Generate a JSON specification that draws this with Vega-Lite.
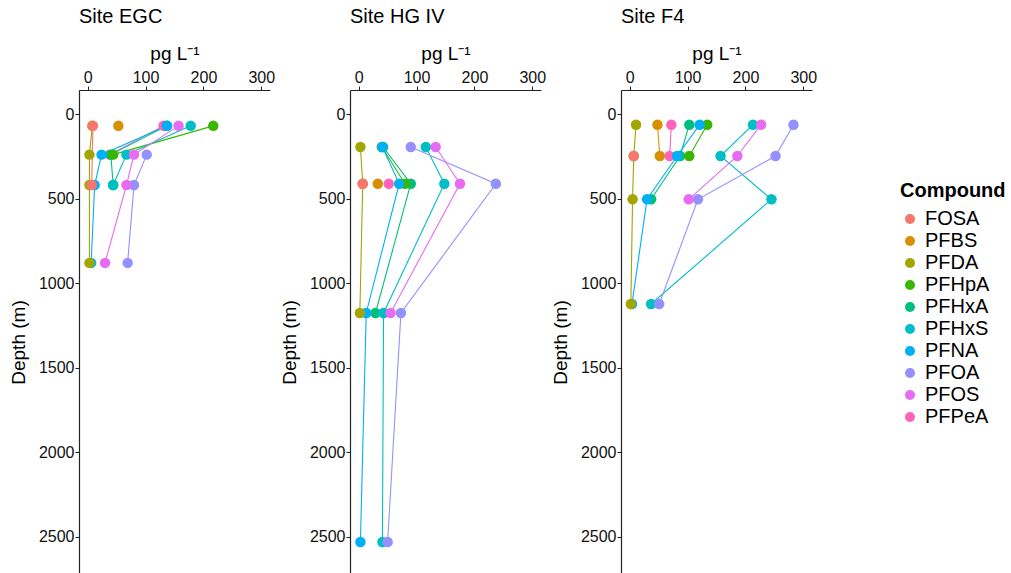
{
  "$schema": "https://vega.github.io/schema/vega-lite/v6.json",
  "background": "white",
  "padding": {"left": 9, "top": 7, "right": 5, "bottom": 0},
  "config": {
    "font": "Liberation Sans",
    "view": {"stroke": null},
    "axis": {
      "grid": false,
      "domainColor": "#222222",
      "domainWidth": 1.2,
      "tickColor": "#222222",
      "tickSize": 4,
      "labelColor": "#111111",
      "labelFontSize": 16,
      "labelFont": "Liberation Sans",
      "titleFont": "Liberation Sans",
      "titleFontSize": 19,
      "titleFontWeight": "normal",
      "titleColor": "#000000",
      "labelPadding": 1,
      "format": "d"
    },
    "title": {"font": "Liberation Sans", "fontSize": 20, "fontWeight": "normal", "anchor": "start", "frame": "group", "color": "#000000", "offset": 17},
    "concat": {"spacing": 80}
  },
  "data": {
    "values": [
      {"site": "EGC", "compound": "PFPeA", "depth": 70, "conc": 131},
      {"site": "EGC", "compound": "PFPeA", "depth": 240, "conc": 38},
      {"site": "HG IV", "compound": "PFPeA", "depth": 412, "conc": 52},
      {"site": "F4", "compound": "PFPeA", "depth": 63, "conc": 72},
      {"site": "F4", "compound": "PFPeA", "depth": 248, "conc": 69},

      {"site": "EGC", "compound": "PFBS", "depth": 70, "conc": 53},
      {"site": "HG IV", "compound": "PFBS", "depth": 412, "conc": 33},
      {"site": "F4", "compound": "PFBS", "depth": 63, "conc": 48},
      {"site": "F4", "compound": "PFBS", "depth": 248, "conc": 52},

      {"site": "EGC", "compound": "PFHxA", "depth": 70, "conc": 137},
      {"site": "EGC", "compound": "PFHxA", "depth": 240, "conc": 40},
      {"site": "EGC", "compound": "PFHxA", "depth": 420, "conc": 44},
      {"site": "HG IV", "compound": "PFHxA", "depth": 195, "conc": 42},
      {"site": "HG IV", "compound": "PFHxA", "depth": 412, "conc": 90},
      {"site": "HG IV", "compound": "PFHxA", "depth": 1176, "conc": 29},
      {"site": "F4", "compound": "PFHxA", "depth": 63, "conc": 103},
      {"site": "F4", "compound": "PFHxA", "depth": 248, "conc": 87},
      {"site": "F4", "compound": "PFHxA", "depth": 504, "conc": 37},

      {"site": "EGC", "compound": "PFHpA", "depth": 70, "conc": 217},
      {"site": "EGC", "compound": "PFHpA", "depth": 240, "conc": 44},
      {"site": "HG IV", "compound": "PFHpA", "depth": 195, "conc": 40},
      {"site": "HG IV", "compound": "PFHpA", "depth": 412, "conc": 80},
      {"site": "F4", "compound": "PFHpA", "depth": 63, "conc": 134},
      {"site": "F4", "compound": "PFHpA", "depth": 248, "conc": 103},

      {"site": "EGC", "compound": "PFHxS", "depth": 70, "conc": 178},
      {"site": "EGC", "compound": "PFHxS", "depth": 240, "conc": 67},
      {"site": "EGC", "compound": "PFHxS", "depth": 420, "conc": 44},
      {"site": "HG IV", "compound": "PFHxS", "depth": 195, "conc": 116},
      {"site": "HG IV", "compound": "PFHxS", "depth": 412, "conc": 148},
      {"site": "HG IV", "compound": "PFHxS", "depth": 1176, "conc": 43},
      {"site": "HG IV", "compound": "PFHxS", "depth": 2530, "conc": 41},
      {"site": "F4", "compound": "PFHxS", "depth": 63, "conc": 213},
      {"site": "F4", "compound": "PFHxS", "depth": 248, "conc": 157},
      {"site": "F4", "compound": "PFHxS", "depth": 504, "conc": 245},
      {"site": "F4", "compound": "PFHxS", "depth": 1123, "conc": 37},

      {"site": "EGC", "compound": "PFOA", "depth": 240, "conc": 102},
      {"site": "EGC", "compound": "PFOA", "depth": 420, "conc": 80},
      {"site": "EGC", "compound": "PFOA", "depth": 880, "conc": 69},
      {"site": "HG IV", "compound": "PFOA", "depth": 195, "conc": 90},
      {"site": "HG IV", "compound": "PFOA", "depth": 412, "conc": 237},
      {"site": "HG IV", "compound": "PFOA", "depth": 1176, "conc": 73},
      {"site": "HG IV", "compound": "PFOA", "depth": 2530, "conc": 50},
      {"site": "F4", "compound": "PFOA", "depth": 63, "conc": 283},
      {"site": "F4", "compound": "PFOA", "depth": 248, "conc": 252},
      {"site": "F4", "compound": "PFOA", "depth": 504, "conc": 118},
      {"site": "F4", "compound": "PFOA", "depth": 1123, "conc": 51},

      {"site": "EGC", "compound": "PFOS", "depth": 70, "conc": 157},
      {"site": "EGC", "compound": "PFOS", "depth": 240, "conc": 80},
      {"site": "EGC", "compound": "PFOS", "depth": 420, "conc": 67},
      {"site": "EGC", "compound": "PFOS", "depth": 880, "conc": 30},
      {"site": "HG IV", "compound": "PFOS", "depth": 195, "conc": 133},
      {"site": "HG IV", "compound": "PFOS", "depth": 412, "conc": 175},
      {"site": "HG IV", "compound": "PFOS", "depth": 1176, "conc": 55},
      {"site": "F4", "compound": "PFOS", "depth": 63, "conc": 227},
      {"site": "F4", "compound": "PFOS", "depth": 248, "conc": 186},
      {"site": "F4", "compound": "PFOS", "depth": 504, "conc": 102},

      {"site": "EGC", "compound": "PFNA", "depth": 70, "conc": 137},
      {"site": "EGC", "compound": "PFNA", "depth": 240, "conc": 24},
      {"site": "EGC", "compound": "PFNA", "depth": 420, "conc": 12},
      {"site": "EGC", "compound": "PFNA", "depth": 880, "conc": 6},
      {"site": "HG IV", "compound": "PFNA", "depth": 195, "conc": 41},
      {"site": "HG IV", "compound": "PFNA", "depth": 412, "conc": 70},
      {"site": "HG IV", "compound": "PFNA", "depth": 1176, "conc": 13},
      {"site": "HG IV", "compound": "PFNA", "depth": 2530, "conc": 3},
      {"site": "F4", "compound": "PFNA", "depth": 63, "conc": 121},
      {"site": "F4", "compound": "PFNA", "depth": 248, "conc": 82},
      {"site": "F4", "compound": "PFNA", "depth": 504, "conc": 30},
      {"site": "F4", "compound": "PFNA", "depth": 1123, "conc": 4},

      {"site": "EGC", "compound": "PFDA", "depth": 70, "conc": 8},
      {"site": "EGC", "compound": "PFDA", "depth": 240, "conc": 3},
      {"site": "EGC", "compound": "PFDA", "depth": 420, "conc": 3},
      {"site": "EGC", "compound": "PFDA", "depth": 880, "conc": 3},
      {"site": "HG IV", "compound": "PFDA", "depth": 195, "conc": 3},
      {"site": "HG IV", "compound": "PFDA", "depth": 412, "conc": 7},
      {"site": "HG IV", "compound": "PFDA", "depth": 1176, "conc": 2},
      {"site": "F4", "compound": "PFDA", "depth": 63, "conc": 11},
      {"site": "F4", "compound": "PFDA", "depth": 248, "conc": 7},
      {"site": "F4", "compound": "PFDA", "depth": 504, "conc": 5},
      {"site": "F4", "compound": "PFDA", "depth": 1123, "conc": 2},

      {"site": "EGC", "compound": "FOSA", "depth": 70, "conc": 9},
      {"site": "EGC", "compound": "FOSA", "depth": 420, "conc": 7},
      {"site": "HG IV", "compound": "FOSA", "depth": 412, "conc": 7},
      {"site": "F4", "compound": "FOSA", "depth": 248, "conc": 7}
    ]
  },
  "hconcat": [
    {
      "title": {"text": "Site EGC"},
      "width": 191,
      "height": 504,
      "transform": [{"filter": "datum.site === 'EGC'"}],
      "layer": [
        {"mark": {"type": "line", "strokeWidth": 1.1, "clip": true},
         "encoding": {
           "x": {"field": "conc", "type": "quantitative"},
           "y": {"field": "depth", "type": "quantitative"},
           "order": {"field": "depth", "type": "quantitative"},
           "color": {"field": "compound", "type": "nominal"}
         }},
        {"mark": {"type": "circle", "size": 110, "opacity": 1, "clip": true},
         "encoding": {
           "x": {"field": "conc", "type": "quantitative", "scale": {"domain": [-15, 315], "nice": false, "zero": false},
                 "axis": {"orient": "top", "values": [0, 100, 200, 300], "title": "pg L⁻¹", "titlePadding": 6}},
           "y": {"field": "depth", "type": "quantitative", "scale": {"domain": [-142, 2837], "reverse": true, "nice": false, "zero": false},
                 "axis": {"values": [0, 500, 1000, 1500, 2000, 2500], "title": "Depth (m)", "titlePadding": 10}},
           "color": {"field": "compound", "type": "nominal"}
         }}
      ]
    },
    {
      "title": {"text": "Site HG IV"},
      "width": 191,
      "height": 504,
      "transform": [{"filter": "datum.site === 'HG IV'"}],
      "layer": [
        {"mark": {"type": "line", "strokeWidth": 1.1, "clip": true},
         "encoding": {
           "x": {"field": "conc", "type": "quantitative"},
           "y": {"field": "depth", "type": "quantitative"},
           "order": {"field": "depth", "type": "quantitative"},
           "color": {"field": "compound", "type": "nominal"}
         }},
        {"mark": {"type": "circle", "size": 110, "opacity": 1, "clip": true},
         "encoding": {
           "x": {"field": "conc", "type": "quantitative", "scale": {"domain": [-15, 315], "nice": false, "zero": false},
                 "axis": {"orient": "top", "values": [0, 100, 200, 300], "title": "pg L⁻¹", "titlePadding": 6}},
           "y": {"field": "depth", "type": "quantitative", "scale": {"domain": [-142, 2837], "reverse": true, "nice": false, "zero": false},
                 "axis": {"values": [0, 500, 1000, 1500, 2000, 2500], "title": "Depth (m)", "titlePadding": 10}},
           "color": {"field": "compound", "type": "nominal"}
         }}
      ]
    },
    {
      "title": {"text": "Site F4"},
      "width": 191,
      "height": 504,
      "transform": [{"filter": "datum.site === 'F4'"}],
      "layer": [
        {"mark": {"type": "line", "strokeWidth": 1.1, "clip": true},
         "encoding": {
           "x": {"field": "conc", "type": "quantitative"},
           "y": {"field": "depth", "type": "quantitative"},
           "order": {"field": "depth", "type": "quantitative"},
           "color": {"field": "compound", "type": "nominal"}
         }},
        {"mark": {"type": "circle", "size": 110, "opacity": 1, "clip": true},
         "encoding": {
           "x": {"field": "conc", "type": "quantitative", "scale": {"domain": [-15, 315], "nice": false, "zero": false},
                 "axis": {"orient": "top", "values": [0, 100, 200, 300], "title": "pg L⁻¹", "titlePadding": 6}},
           "y": {"field": "depth", "type": "quantitative", "scale": {"domain": [-142, 2837], "reverse": true, "nice": false, "zero": false},
                 "axis": {"values": [0, 500, 1000, 1500, 2000, 2500], "title": "Depth (m)", "titlePadding": 10}},
           "color": {"field": "compound", "type": "nominal",
                     "scale": {"domain": ["FOSA", "PFBS", "PFDA", "PFHpA", "PFHxA", "PFHxS", "PFNA", "PFOA", "PFOS", "PFPeA"],
                               "range": ["#F8766D", "#D89000", "#A3A500", "#39B600", "#00BF7D", "#00BFC4", "#00B0F6", "#9590FF", "#E76BF3", "#FF62BC"]},
                     "legend": {"title": "Compound", "orient": "none", "legendX": 821, "legendY": 91,
                                "titleFontSize": 20, "titleFontWeight": "bold", "titleFont": "Liberation Sans", "titleColor": "#000000",
                                "labelFontSize": 20, "labelFont": "Liberation Sans", "labelColor": "#000000", "labelOffset": 5,
                                "symbolType": "circle", "symbolSize": 100, "symbolStrokeWidth": 0, "rowPadding": 2, "titlePadding": 8}}
         }}
      ]
    }
  ],
  "resolve": {"scale": {"color": "shared"}},
  "bounds": "flush"
}
